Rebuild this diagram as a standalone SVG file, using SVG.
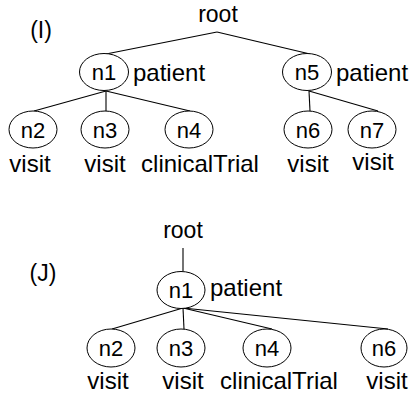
<svg xmlns="http://www.w3.org/2000/svg" width="409" height="399" viewBox="0 0 409 399">
<style>
text{font-family:"Liberation Sans",Arial,sans-serif;fill:#000}
.lbl{font-size:24px}
.nm{font-size:22px;text-anchor:middle}
.hd{font-size:23px}
.mid{text-anchor:middle}
ellipse{fill:#fff;stroke:#000;stroke-width:1}
.e line{stroke:#000;stroke-width:1.1}
</style>
<rect width="409" height="399" fill="#fff"/>
<g id="connectors" class="e">
<line x1="217" y1="32" x2="106" y2="54"/>
<line x1="217" y1="32" x2="310" y2="54"/>
<line x1="106" y1="91" x2="34" y2="111"/>
<line x1="106" y1="91" x2="106" y2="111"/>
<line x1="106" y1="91" x2="190" y2="111"/>
<line x1="309" y1="91" x2="310" y2="111"/>
<line x1="309" y1="91" x2="378" y2="111"/>
<line x1="183" y1="248" x2="183" y2="271"/>
<line x1="183" y1="308" x2="112" y2="329"/>
<line x1="183" y1="308" x2="184" y2="329"/>
<line x1="183" y1="308" x2="272" y2="329"/>
<line x1="183" y1="308" x2="388" y2="329"/>
</g>
<text class="hd" x="41" y="38" text-anchor="middle">(I)</text>
<g id="rootI"><text class="hd mid" x="218" y="22">root</text></g>
<g id="I_n1"><ellipse cx="104" cy="72" rx="24.5" ry="18.5"/><text class="nm" x="104" y="80">n1</text><text class="lbl" x="133" y="81">patient</text></g>
<g id="I_n5"><ellipse cx="307" cy="72" rx="24.5" ry="18.5"/><text class="nm" x="307" y="80">n5</text><text class="lbl" x="336" y="81">patient</text></g>
<g id="I_n2"><ellipse cx="33" cy="129.5" rx="24" ry="18.5"/><text class="nm" x="33" y="138">n2</text><text class="lbl mid" x="30" y="172">visit</text></g>
<g id="I_n3"><ellipse cx="105" cy="129.5" rx="24" ry="18.5"/><text class="nm" x="105" y="138">n3</text><text class="lbl mid" x="105" y="172">visit</text></g>
<g id="I_n4"><ellipse cx="189" cy="129.5" rx="24" ry="18.5"/><text class="nm" x="189" y="138">n4</text><text class="lbl mid" x="200" y="172">clinicalTrial</text></g>
<g id="I_n6"><ellipse cx="308" cy="129.5" rx="24" ry="18.5"/><text class="nm" x="308" y="138">n6</text><text class="lbl mid" x="308" y="172">visit</text></g>
<g id="I_n7"><ellipse cx="372" cy="129.5" rx="24" ry="18.5"/><text class="nm" x="372" y="138">n7</text><text class="lbl mid" x="373" y="170">visit</text></g>
<text class="hd" x="43" y="281" text-anchor="middle">(J)</text>
<g id="rootJ"><text class="hd mid" x="183" y="238">root</text></g>
<g id="J_n1"><ellipse cx="181" cy="290" rx="24" ry="18.5"/><text class="nm" x="181" y="298">n1</text><text class="lbl" x="210" y="296">patient</text></g>
<g id="J_n2"><ellipse cx="111" cy="348" rx="24" ry="19"/><text class="nm" x="111" y="356">n2</text><text class="lbl mid" x="108" y="389">visit</text></g>
<g id="J_n3"><ellipse cx="181" cy="348" rx="24" ry="19"/><text class="nm" x="181" y="356">n3</text><text class="lbl mid" x="183" y="389">visit</text></g>
<g id="J_n4"><ellipse cx="267" cy="348" rx="24" ry="19"/><text class="nm" x="267" y="356">n4</text><text class="lbl mid" x="279" y="389">clinicalTrial</text></g>
<g id="J_n6"><ellipse cx="384" cy="348" rx="23" ry="19"/><text class="nm" x="384" y="356">n6</text><text class="lbl mid" x="387" y="389">visit</text></g>
</svg>
